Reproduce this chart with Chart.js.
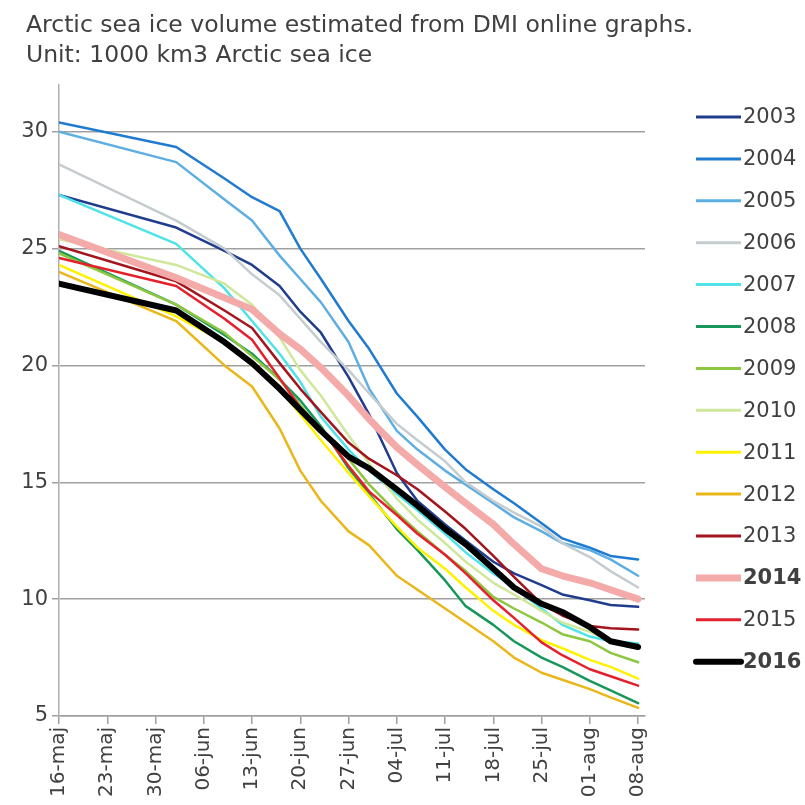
<!DOCTYPE html>
<html>
<head>
<meta charset="utf-8">
<script src="https://cdn.jsdelivr.net/npm/chart.js@4.4.1/dist/chart.umd.min.js"></script>
<style>
  html, body { margin: 0; padding: 0; background: #ffffff; }
  #wrap { width: 805px; height: 805px; }
</style>
</head>
<body>
<div id="wrap"><canvas id="c" width="805" height="805"></canvas></div>
<script>
// Chart text
const titleLines = [
  'Arctic sea ice volume estimated from DMI online graphs.',
  'Unit: 1000 km3 Arctic sea ice'
];

// Weekly tick labels (day 0 = 16 May, one label every 7 days)
const weekLabels = ['16-maj', '23-maj', '30-maj', '06-jun', '13-jun', '20-jun', '27-jun',
                    '04-jul', '11-jul', '18-jul', '25-jul', '01-aug', '08-aug'];
const yTickValues = [5, 10, 15, 20, 25, 30];

// Days after 16 May at which each season's volume is given
const sampleDays = [0, 17, 24, 28, 32, 35, 38, 42, 45, 49, 52, 56, 59, 63, 66, 70, 73, 77, 80, 84];

// Ice volume, 1000 km3
const vol2003 = [27.3, 25.9, 24.9, 24.3, 23.4, 22.3, 21.4, 19.5, 17.9, 15.4, 14.2, 13.2, 12.5, 11.6, 11.1, 10.6, 10.2, 9.95, 9.75, 9.67];
const vol2004 = [30.4, 29.35, 28.0, 27.2, 26.6, 25.0, 23.7, 21.9, 20.7, 18.8, 17.8, 16.4, 15.55, 14.7, 14.1, 13.25, 12.6, 12.2, 11.85, 11.7];
const vol2005 = [30.0, 28.7, 27.1, 26.2, 24.7, 23.7, 22.7, 21.0, 19.0, 17.2, 16.4, 15.5, 14.9, 14.1, 13.5, 12.9, 12.4, 12.1, 11.7, 11.0];
const vol2006 = [28.6, 26.2, 25.0, 23.9, 23.0, 22.0, 21.0, 19.8, 18.8, 17.5, 16.8, 15.9, 15.0, 14.2, 13.7, 13.1, 12.4, 11.8, 11.2, 10.5];
const vol2007 = [27.3, 25.2, 23.3, 21.9, 20.5, 19.3, 17.8, 16.4, 15.5, 14.5, 13.8, 12.8, 12.0, 11.1, 10.5, 9.6, 8.9, 8.4, 8.2, 8.1];
const vol2008 = [24.9, 22.6, 21.3, 20.5, 19.4, 18.5, 17.4, 15.6, 14.5, 13.0, 12.1, 10.8, 9.7, 8.9, 8.2, 7.5, 7.1, 6.5, 6.1, 5.55];
const vol2009 = [24.8, 22.6, 21.4, 20.4, 19.4, 18.3, 17.2, 16.0, 14.9, 13.7, 12.9, 11.9, 11.2, 10.1, 9.6, 9.0, 8.5, 8.2, 7.7, 7.3];
const vol2010 = [25.4, 24.3, 23.5, 22.6, 21.2, 19.8, 18.7, 17.0, 15.8, 14.3, 13.4, 12.4, 11.6, 10.7, 10.2, 9.5, 9.0, 8.6, 8.2, 7.9];
const vol2011 = [24.3, 22.1, 21.0, 20.0, 19.0, 17.9, 16.8, 15.4, 14.4, 13.1, 12.2, 11.3, 10.5, 9.5, 8.9, 8.25, 7.9, 7.4, 7.1, 6.6];
const vol2012 = [24.0, 21.9, 20.0, 19.1, 17.3, 15.5, 14.2, 12.9, 12.3, 11.0, 10.4, 9.6, 9.0, 8.2, 7.5, 6.85, 6.55, 6.15, 5.8, 5.35];
const vol2013 = [25.1, 23.6, 22.35, 21.6, 20.1, 19.0, 18.0, 16.7, 16.0, 15.3, 14.7, 13.75, 13.0, 11.85, 10.95, 9.8, 9.3, 8.85, 8.75, 8.7];
const vol2014 = [25.6, 23.75, 22.9, 22.4, 21.35, 20.7, 19.9, 18.7, 17.7, 16.5, 15.75, 14.8, 14.1, 13.2, 12.35, 11.3, 11.0, 10.7, 10.4, 10.0];
const vol2015 = [24.6, 23.4, 22.0, 21.1, 19.45, 18.2, 17.3, 15.7, 14.6, 13.6, 12.8, 11.9, 11.1, 9.95, 9.2, 8.15, 7.6, 7.0, 6.7, 6.3];
const vol2016 = [23.5, 22.35, 21.0, 20.1, 19.0, 18.1, 17.2, 16.1, 15.6, 14.7, 14.0, 13.0, 12.35, 11.3, 10.5, 9.8, 9.45, 8.8, 8.2, 7.95];

const seriesYears = ['2003', '2004', '2005', '2006', '2007', '2008', '2009',
                     '2010', '2011', '2012', '2013', '2014', '2015', '2016'];
const seriesValues = [vol2003, vol2004, vol2005, vol2006, vol2007, vol2008, vol2009,
                      vol2010, vol2011, vol2012, vol2013, vol2014, vol2015, vol2016];
const seriesColors = ['#203c8c', '#1f7bd0', '#5eaee2', '#c4ccd0', '#4fe3e8', '#17975a', '#8dc63f',
                      '#cfe79a', '#fff200', '#eab71a', '#a3141c', '#f4aaa9', '#e3202b', '#000000'];
const highlightYears = ['2014', '2016'];

const TEXT_COLOR = '#404040';
const GRID_COLOR = '#a0a0a0';
const FONT = '"DejaVu Sans", Verdana, sans-serif';

function lineWidthFor(year) {
  if (year === '2014') return 7;
  if (year === '2016') return 6;
  return 2.5;
}

const datasets = seriesYears.map((year, i) => ({
  label: year,
  data: sampleDays.map((d, k) => ({ x: d, y: seriesValues[i][k] })),
  borderColor: seriesColors[i],
  backgroundColor: seriesColors[i],
  borderWidth: lineWidthFor(year),
  pointRadius: 0,
  tension: 0,
  borderJoinStyle: 'round',
  borderCapStyle: 'round',
  // later seasons are painted over earlier ones
  order: seriesYears.length - 1 - i
}));

// Two-line heading in the top-left corner
const heading = {
  id: 'heading',
  afterDraw(chart) {
    const ctx = chart.ctx;
    ctx.save();
    ctx.fillStyle = TEXT_COLOR;
    ctx.font = '23.5px ' + FONT;
    ctx.textAlign = 'left';
    ctx.textBaseline = 'alphabetic';
    titleLines.forEach((line, i) => ctx.fillText(line, 26, 32 + i * 30));
    ctx.restore();
  }
};

// Legend drawn as a column of line samples to the right of the plot
const sideLegend = {
  id: 'sideLegend',
  afterDraw(chart) {
    const ctx = chart.ctx;
    const x0 = chart.chartArea.right + 51;
    const lineLen = 45;
    const top = 117;
    const step = 41.9;
    ctx.save();
    chart.data.datasets.forEach((ds, i) => {
      const y = top + i * step;
      const strong = highlightYears.includes(ds.label);
      ctx.strokeStyle = ds.borderColor;
      ctx.lineWidth = strong ? ds.borderWidth : 3;
      ctx.lineCap = ds.label === '2016' ? 'round' : 'butt';
      ctx.beginPath();
      ctx.moveTo(x0, y);
      ctx.lineTo(x0 + lineLen, y);
      ctx.stroke();
      ctx.fillStyle = TEXT_COLOR;
      ctx.textBaseline = 'middle';
      ctx.textAlign = 'left';
      ctx.font = (strong ? 'bold ' : '') + '21px ' + FONT;
      ctx.fillText(ds.label, x0 + lineLen + 2, y + 1);
    });
    ctx.restore();
  }
};

new Chart(document.getElementById('c'), {
  type: 'line',
  data: { datasets },
  plugins: [heading, sideLegend],
  options: {
    responsive: false,
    animation: false,
    devicePixelRatio: 1,
    layout: { padding: { left: 0, right: 160, top: 85, bottom: 0 } },
    plugins: {
      legend: { display: false },
      tooltip: { enabled: false },
      title: { display: false }
    },
    scales: {
      x: {
        type: 'linear',
        min: 0,
        max: 85,
        afterBuildTicks: (scale) => {
          scale.ticks = weekLabels.map((_, i) => ({ value: i * 7 }));
        },
        afterFit: (scale) => { scale.height = 89; },
        ticks: {
          autoSkip: false,
          minRotation: 90,
          maxRotation: 90,
          padding: 3,
          color: TEXT_COLOR,
          font: { family: FONT, size: 20 },
          callback: (value) => weekLabels[Math.round(value / 7)]
        },
        grid: {
          drawOnChartArea: false,
          drawTicks: true,
          tickLength: 8,
          color: GRID_COLOR,
          lineWidth: 1.5
        },
        border: { display: true, color: GRID_COLOR, width: 1.5 }
      },
      y: {
        min: 5,
        max: 32,
        afterBuildTicks: (scale) => {
          scale.ticks = yTickValues.map((v) => ({ value: v }));
        },
        afterFit: (scale) => { scale.width = 59; },
        ticks: {
          padding: 4,
          color: TEXT_COLOR,
          font: { family: FONT, size: 21 }
        },
        grid: {
          color: GRID_COLOR,
          lineWidth: 1.5,
          tickLength: 7,
          drawTicks: true
        },
        border: { display: true, color: '#b0b0b0', width: 1.5 }
      }
    }
  }
});
</script>
</body>
</html>
